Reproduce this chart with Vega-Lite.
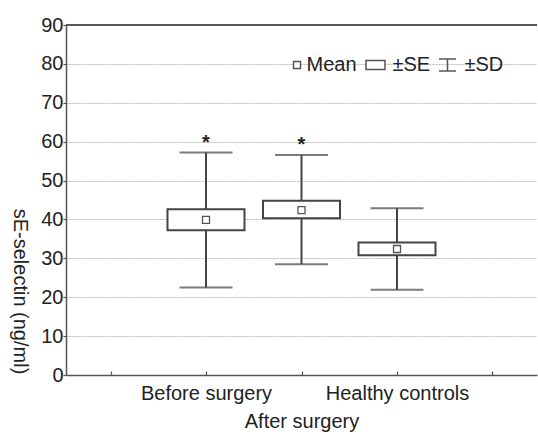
{
  "$schema": "https://vega.github.io/schema/vega-lite/v6.json",
  "autosize": {"type": "none"},
  "padding": {"left": 66, "top": 25, "right": 1, "bottom": 57},
  "width": 471,
  "height": 350,
  "background": "white",
  "config": {
    "font": "Liberation Sans",
    "view": {"stroke": null},
    "axis": {"labelFontSize": 20, "labelColor": "#222", "titleFontSize": 20, "titleFontWeight": "normal", "titleColor": "#222", "domainColor": "#555", "domainWidth": 1.5, "tickColor": "#555", "tickWidth": 1.2},
    "axisY": {"labelOverlap": false, "labelFlush": false}
  },
  "data": {
    "values": [
      {"group": "Before surgery", "mean": 39.9, "se_lo": 37.2, "se_hi": 42.6, "sd_lo": 22.5, "sd_hi": 57.2, "sig": "*"},
      {"group": "After surgery", "mean": 42.4, "se_lo": 40.3, "se_hi": 44.8, "sd_lo": 28.5, "sd_hi": 56.6, "sig": "*"},
      {"group": "Healthy controls", "mean": 32.4, "se_lo": 30.8, "se_hi": 34.1, "sd_lo": 21.9, "sd_hi": 42.9, "sig": ""}
    ]
  },
  "layer": [
    {
      "mark": {"type": "rule", "color": "#555", "strokeWidth": 1.5},
      "encoding": {"y": {"datum": 90, "type": "quantitative", "scale": {"domain": [0, 90], "nice": false},
          "axis": {"title": "sE-selectin (ng/ml)", "titleAngle": 90, "titleX": -47, "titleY": 266, "titleBaseline": "middle", "titleAlign": "center", "values": [0,10,20,30,40,50,60,70,80,90], "tickCount": 12, "tickSize": 3, "labelPadding": 0, "grid": true, "gridColor": "#bbb", "gridDash": [2, 1], "gridWidth": 1}}}
    },
    {
      "mark": {"type": "rule", "color": "#444", "strokeWidth": 2},
      "encoding": {
        "x": {
          "field": "group",
          "type": "nominal",
          "scale": {"type": "point", "domain": ["", "Before surgery", "After surgery", "Healthy controls", " "], "padding": 0.466},
          "axis": {"title": null, "grid": false, "tickSize": -4, "labelPadding": 12, "labelAngle": 0, "labelLineHeight": 28, "labelOverlap": false, "labelExpr": "datum.value == 'After surgery' ? ['', 'After surgery'] : datum.label"}
        },
        "y": {"field": "sd_lo", "type": "quantitative"},
        "y2": {"field": "sd_hi"}
      }
    },
    {
      "mark": {"type": "bar", "fill": "white", "stroke": "#444", "strokeWidth": 2, "width": 77},
      "encoding": {
        "x": {"field": "group", "type": "nominal"},
        "y": {"field": "se_lo", "type": "quantitative"},
        "y2": {"field": "se_hi"}
      }
    },
    {
      "mark": {"type": "tick", "color": "#444", "size": 53, "thickness": 2},
      "encoding": {"x": {"field": "group", "type": "nominal"}, "y": {"field": "sd_hi", "type": "quantitative"}}
    },
    {
      "mark": {"type": "tick", "color": "#444", "size": 53, "thickness": 2},
      "encoding": {"x": {"field": "group", "type": "nominal"}, "y": {"field": "sd_lo", "type": "quantitative"}}
    },
    {
      "mark": {"type": "point", "filled": true, "fill": "white", "stroke": "#555", "strokeWidth": 1.3, "size": 400, "opacity": 1, "xOffset": -7.5},
      "encoding": {
        "x": {"field": "group", "type": "nominal"},
        "y": {"field": "mean", "type": "quantitative"},
        "shape": {
          "datum": "Mean",
          "scale": {"domain": ["Mean", "±SE", "±SD"], "range": ["M0.4,-0.35H1.1V0.35H0.4Z", "M-0.95,-0.45H0.95V0.45H-0.95Z", "M-0.85,-0.6H0.85M0,-0.6V0.6M-0.85,0.6H0.85"]},
          "legend": {
            "title": null,
            "orient": "none",
            "legendX": 212.5,
            "legendY": 29,
            "direction": "horizontal",
            "columns": 3,
            "symbolSize": 400,
            "labelFontSize": 20,
            "labelColor": "#222",
            "labelOffset": 6,
            "columnPadding": 5,
            "encode": {
              "symbols": {"update": {
                "fill": {"signal": "datum.value === 'Mean' ? '#ddd' : '#e8e8e8'"},
                "stroke": {"signal": "datum.value === 'Mean' ? '#666' : '#444'"},
                "strokeWidth": {"signal": "datum.value === 'Mean' ? 1.2 : 1.8"},
                "opacity": {"value": 1}
              }}
            }
          }
        }
      }
    },
    {
      "mark": {"type": "text", "fontSize": 20, "fontWeight": "bold", "color": "#222", "baseline": "alphabetic", "dy": -4},
      "encoding": {
        "x": {"field": "group", "type": "nominal"},
        "y": {"field": "sd_hi", "type": "quantitative"},
        "text": {"field": "sig"}
      }
    }
  ]
}
